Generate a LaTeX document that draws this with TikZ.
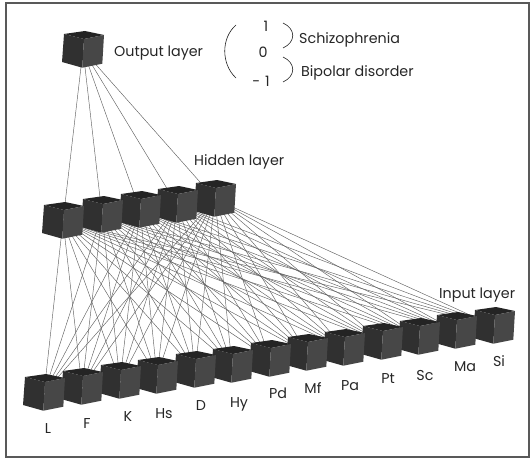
\documentclass[tikz,border=0pt]{standalone}
\usepackage{fontspec}
\setmainfont{Poppins}
\begin{document}
\begin{tikzpicture}[x=1pt,y=-1pt,
  link/.style={draw=black!62,line width=0.45pt},
  lbl/.style={inner sep=0pt,anchor=base,text=black!85,font=\fontsize{14.3}{16}\selectfont},
  ttl/.style={inner sep=0pt,anchor=base west,text=black!85,font=\fontsize{14.3}{16}\selectfont},
  brk/.style={draw=black!88,line width=0.6pt},
  cube/.pic={
    \fill[black!86] (-19,-16) -- (2,-19) -- (21,-15) -- (1,-11) -- cycle;
    \fill[black!81] (-19,-16) -- (1,-11) -- (-0.7,17.7) -- (-21,12) -- cycle;
    \fill[black!72] (1,-11) -- (21,-15) -- (19.3,13.7) -- (-0.7,17.7) -- cycle;
  }]
\useasboundingbox (0,0) rectangle (531,460);
\draw[black!65,line width=1.1pt] (6,3) rectangle (529,457);

% cube centres
\coordinate (O) at (83,50);
\foreach \n/\x/\y in {H1/63/221,H2/102/215,H3/140/210,H4/177/205,H5/215/199}
  \coordinate (\n) at (\x,\y);
\foreach \n/\x/\y in {L/44/393,F/82/387,K/120/381,Hs/157/376,D/195/370,Hy/232/365,
                      Pd/270/359,Mf/307/353,Pa/344/348,Pt/382/342,Sc/419/337,Ma/456/331,Si/494/326}
  \coordinate (\n) at (\x,\y);

% connections
\foreach \h in {H1,H2,H3,H4,H5}{
  \draw[link] (O) -- (\h);
  \foreach \i in {L,F,K,Hs,D,Hy,Pd,Mf,Pa,Pt,Sc,Ma,Si}
    \draw[link] (\h) -- (\i);
}

% units, back to front
\foreach \i in {Si,Ma,Sc,Pt,Pa,Mf,Pd,Hy,D,Hs,K,F,L}
  \pic at (\i) {cube};
\foreach \h in {H5,H4,H3,H2,H1}
  \pic at (\h) {cube};
\pic at (O) {cube};

% input labels
\foreach \i/\x/\y in {L/48/433,F/87/428,K/128/421.7,Hs/164/418.3,D/201/410.7,Hy/239/407.3,
                      Pd/278/398.3,Mf/313/393.3,Pa/350/390,Pt/388/383.3,Sc/425/380,Ma/465/371.7,Si/499/366.7}
  \node[lbl] (t\i) at (\x,\y) {\i};

% layer titles
\node[ttl] (tout) at (114,56.5) {Output layer};
\node[ttl] (thid) at (194,166) {Hidden layer};
\node[ttl] (tin) at (439,298.3) {Input layer};

% output coding
\draw[brk] (236,25) .. controls (221,38) and (221,64) .. (236,78);
\node[lbl] (vone) at (266,31.5) {1};
\node[lbl] (vzero) at (263,57.5) {0};
\node[lbl] (vmone) at (261,86.5) {-\,\,1};
\draw[brk] (283,23) .. controls (296,29) and (296,42) .. (283,48);
\draw[brk] (283,57) .. controls (296,63) and (296,76) .. (283,82);
\node[ttl] (tsch) at (299,43.3) {Schizophrenia};
\node[ttl] (tbip) at (301,76.3) {Bipolar disorder};
\end{tikzpicture}
\end{document}
